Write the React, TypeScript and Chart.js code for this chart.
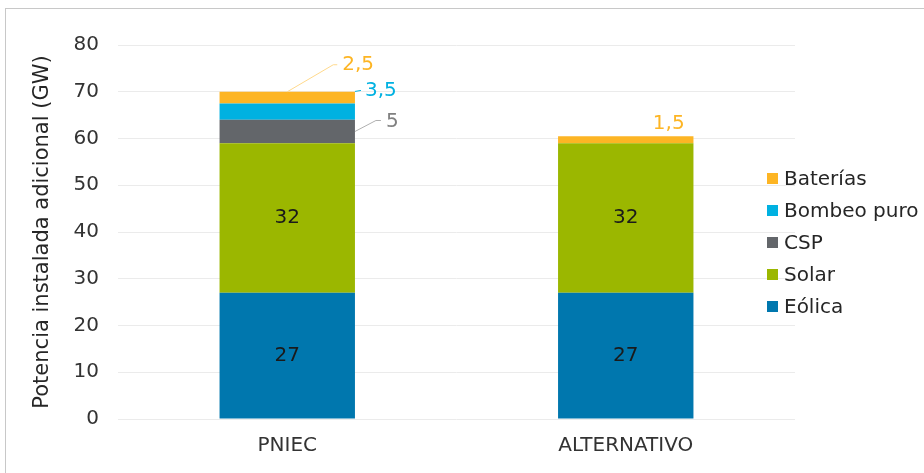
import React, { useEffect, useRef } from "react";
import { Chart, registerables } from "chart.js";

Chart.register(...registerables);

const categories = ["PNIEC", "ALTERNATIVO"];
const seriesNames = ["Eólica", "Solar", "CSP", "Bombeo puro", "Baterías"];
const eolica = [27, 27];
const solar = [32, 32];
const csp = [5, null];
const bombeo = [3.5, null];
const baterias = [2.5, 1.5];
const yTicks = [0, 10, 20, 30, 40, 50, 60, 70, 80];

const colors = ["#0077AE", "#9BB700", "#63666A", "#00B1E1", "#FDB524"];
const labelColors = ["#1a1a1a", "#1a1a1a", "#808080", "#00B1E1", "#FDB524"];
const leaderColors = ["", "", "#b0b0b0", "#00B1E1", "#FFD98C"];

const FONT = "'DejaVu Sans', Verdana, sans-serif";

// outside label placements (style only): dataset index, category index,
// anchor x (-1 left, 0 center, 1 right of bar), anchor y fraction from segment top,
// leader line offsets, text offset, text align
const outerLabels = [
  { ds: 4, idx: 0, ax: 0, ay: 0, line: [[0, 0], [46, -27], [50, -27]], text: [55, -27], align: "left" },
  { ds: 3, idx: 0, ax: 1, ay: 0, line: [[0, -12], [6, -13]], text: [10, -13], align: "left" },
  { ds: 2, idx: 0, ax: 1, ay: 0.5, line: [[0, 0], [21, -11], [26, -11]], text: [31, -10], align: "left" },
  { ds: 4, idx: 1, ax: 0, ay: 0, line: [], text: [43, -12], align: "center" },
];
const insideSeries = [0, 1];

const fmt = (v: number) => String(v).replace(".", ",");

const labelPlugin = {
  id: "valueLabels",
  afterDatasetsDraw(chart: any) {
    const ctx = chart.ctx;
    ctx.save();
    ctx.font = `20px ${FONT}`;
    ctx.textBaseline = "middle";
    insideSeries.forEach((ds) => {
      const meta = chart.getDatasetMeta(ds);
      meta.data.forEach((el: any, i: number) => {
        const v = chart.data.datasets[ds].data[i];
        if (v == null) return;
        ctx.fillStyle = labelColors[ds];
        ctx.textAlign = "center";
        ctx.fillText(fmt(v), el.x, (el.y + el.base) / 2);
      });
    });
    outerLabels.forEach((l) => {
      const el: any = chart.getDatasetMeta(l.ds).data[l.idx];
      const v = chart.data.datasets[l.ds].data[l.idx];
      if (!el || v == null) return;
      const x0 = el.x + (l.ax * el.width) / 2;
      const y0 = el.y + l.ay * (el.base - el.y);
      if (l.line.length) {
        ctx.strokeStyle = leaderColors[l.ds];
        ctx.lineWidth = 1;
        ctx.beginPath();
        l.line.forEach((p, k) => {
          if (k === 0) ctx.moveTo(x0 + p[0], y0 + p[1]);
          else ctx.lineTo(x0 + p[0], y0 + p[1]);
        });
        ctx.stroke();
      }
      ctx.fillStyle = labelColors[l.ds];
      ctx.textAlign = l.align;
      ctx.fillText(fmt(v), x0 + l.text[0], y0 + l.text[1]);
    });
    ctx.restore();
  },
};

const legendPlugin = {
  id: "sideLegend",
  afterDraw(chart: any) {
    const ctx = chart.ctx;
    const area = chart.chartArea;
    ctx.save();
    ctx.font = `20px ${FONT}`;
    ctx.textBaseline = "middle";
    ctx.textAlign = "left";
    const n = chart.data.datasets.length;
    for (let r = 0; r < n; r++) {
      const ds = chart.data.datasets[n - 1 - r];
      const cy = area.top + 133.5 + r * 32;
      const sx = area.right - 28;
      ctx.fillStyle = ds.backgroundColor;
      ctx.fillRect(sx, cy - 5.5, 11, 11);
      ctx.fillStyle = "#262626";
      ctx.fillText(ds.label, sx + 17, cy + 1);
    }
    ctx.restore();
  },
};

export default function App() {
  const ref = useRef<HTMLCanvasElement>(null);
  useEffect(() => {
    if (!ref.current) return;
    const seriesData = [eolica, solar, csp, bombeo, baterias];
    const chart = new Chart(ref.current, {
      type: "bar",
      data: {
        labels: categories,
        datasets: seriesNames.map((name, i) => ({
          label: name,
          data: seriesData[i],
          backgroundColor: colors[i],
          borderWidth: 0,
          barPercentage: 0.4,
          categoryPercentage: 1,
        })),
      },
      options: {
        animation: false,
        responsive: false,
        maintainAspectRatio: false,
        layout: { padding: { top: 45, right: 129, bottom: 0, left: 0 } },
        plugins: {
          legend: { display: false },
          tooltip: { enabled: false },
        },
        scales: {
          x: {
            stacked: true,
            grid: { display: false, drawTicks: false },
            border: { display: false },
            ticks: { color: "#333", font: { family: FONT, size: 20 }, padding: 15 },
            afterFit: (s: any) => {
              s.height = 54;
            },
          },
          y: {
            stacked: true,
            min: 0,
            max: 80,
            afterBuildTicks: (s: any) => {
              s.ticks = yTicks.map((v) => ({ value: v }));
            },
            grid: { color: "#ebebeb", lineWidth: 1, drawTicks: false },
            border: { display: false },
            ticks: { color: "#333", font: { family: FONT, size: 20 }, padding: 19 },
            title: {
              display: true,
              text: "Potencia instalada adicional (GW)",
              color: "#262626",
              font: { family: FONT, size: 21 },
              padding: { top: 30, bottom: 0 },
            },
            afterFit: (s: any) => {
              s.width = 118;
            },
          },
        },
      },
      plugins: [labelPlugin, legendPlugin],
    });
    return () => chart.destroy();
  }, []);

  return (
    <div style={{ position: "fixed", left: 0, top: 0, width: 924, height: 473, background: "#fff" }}>
      <div
        style={{
          position: "absolute",
          left: 5,
          top: 8,
          right: -10,
          bottom: -10,
          borderLeft: "1px solid #c8c8c8",
          borderTop: "1px solid #c8c8c8",
        }}
      />
      <canvas ref={ref} width={924} height={473} style={{ position: "absolute", left: 0, top: 0 }} />
    </div>
  );
}
